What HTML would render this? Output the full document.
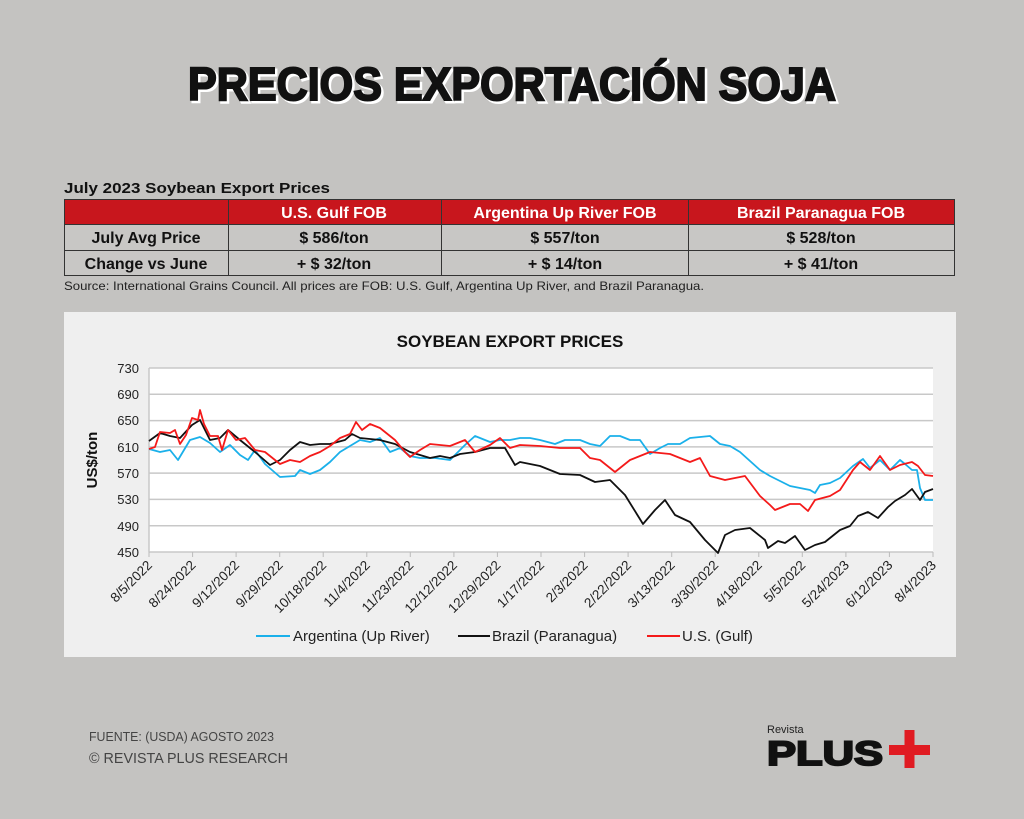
<!DOCTYPE html>
<html><head><meta charset="utf-8"><style>
html,body{margin:0;padding:0;background:#c4c3c1;}
svg{display:block}
</style></head><body>
<svg width="1024" height="819" viewBox="0 0 1024 819" xmlns="http://www.w3.org/2000/svg" font-family="'Liberation Sans', sans-serif">
<rect width="1024" height="819" fill="#c4c3c1"/>
<!-- title -->
<text x="190" y="102" font-size="46" font-weight="bold" fill="#fff" textLength="648" lengthAdjust="spacingAndGlyphs" stroke="#fff" stroke-width="3">PRECIOS EXPORTACIÓN SOJA</text>
<text x="188" y="100" font-size="46" font-weight="bold" fill="#111" textLength="648" lengthAdjust="spacingAndGlyphs" stroke="#111" stroke-width="2">PRECIOS EXPORTACIÓN SOJA</text>
<!-- table -->
<text x="64" y="193" font-size="15" font-weight="bold" fill="#111" textLength="266" lengthAdjust="spacingAndGlyphs">July 2023 Soybean Export Prices</text>
<rect x="64.5" y="199.5" width="890" height="25" fill="#c8161d" stroke="#333"/>
<rect x="64.5" y="224.5" width="890" height="51" fill="#c8c7c5" stroke="#333"/>
<line x1="64" y1="250.5" x2="955" y2="250.5" stroke="#333"/>
<g stroke="#333"><line x1="228.5" y1="199" x2="228.5" y2="276"/><line x1="441.5" y1="199" x2="441.5" y2="276"/><line x1="688.5" y1="199" x2="688.5" y2="276"/></g>
<g font-size="16" font-weight="bold" text-anchor="middle">
<text x="334" y="218" fill="#fff">U.S. Gulf FOB</text>
<text x="565" y="218" fill="#fff">Argentina Up River FOB</text>
<text x="821" y="218" fill="#fff">Brazil Paranagua FOB</text>
<text x="146" y="243" fill="#111">July Avg Price</text>
<text x="334" y="243" fill="#111">$ 586/ton</text>
<text x="565" y="243" fill="#111">$ 557/ton</text>
<text x="821" y="243" fill="#111">$ 528/ton</text>
<text x="146" y="269" fill="#111">Change vs June</text>
<text x="334" y="269" fill="#111">+ $ 32/ton</text>
<text x="565" y="269" fill="#111">+ $ 14/ton</text>
<text x="821" y="269" fill="#111">+ $ 41/ton</text>
</g>
<text x="64" y="290" font-size="12" fill="#222" textLength="640" lengthAdjust="spacingAndGlyphs">Source: International Grains Council. All prices are FOB: U.S. Gulf, Argentina Up River, and Brazil Paranagua.</text>
<!-- chart -->
<rect x="64" y="312" width="892" height="345" fill="#efefef"/>
<text x="510" y="347" font-size="17" font-weight="bold" fill="#111" text-anchor="middle">SOYBEAN EXPORT PRICES</text>
<rect x="149" y="368" width="784" height="184" fill="#fff"/>
<g stroke="#c8c8c8" stroke-width="1.5">
<line x1="149" y1="368" x2="933" y2="368"/><line x1="149" y1="394.3" x2="933" y2="394.3"/><line x1="149" y1="420.6" x2="933" y2="420.6"/><line x1="149" y1="446.9" x2="933" y2="446.9"/><line x1="149" y1="473.1" x2="933" y2="473.1"/><line x1="149" y1="499.4" x2="933" y2="499.4"/><line x1="149" y1="525.7" x2="933" y2="525.7"/><line x1="149" y1="552" x2="933" y2="552"/>
<line x1="149" y1="368" x2="149" y2="552"/>
</g>
<g font-size="13" fill="#222" text-anchor="end">
<text x="139" y="373">730</text><text x="139" y="399">690</text><text x="139" y="425">650</text><text x="139" y="452">610</text><text x="139" y="478">570</text><text x="139" y="504">530</text><text x="139" y="531">490</text><text x="139" y="557">450</text>
</g>
<text transform="translate(97,460) rotate(-90)" font-size="15" font-weight="bold" fill="#111" text-anchor="middle">US$/ton</text>
<g stroke="#bbb" stroke-width="1">
<path d="M149 552v5M192.6 552v5M236.1 552v5M279.7 552v5M323.2 552v5M366.8 552v5M410.3 552v5M453.9 552v5M497.4 552v5M541 552v5M584.6 552v5M628.1 552v5M671.7 552v5M715.2 552v5M758.8 552v5M802.3 552v5M845.9 552v5M889.4 552v5M933 552v5"/>
</g>
<g font-size="13.5" fill="#222" text-anchor="end">
<text transform="translate(153,566) rotate(-45)">8/5/2022</text>
<text transform="translate(196.6,566) rotate(-45)">8/24/2022</text>
<text transform="translate(240.1,566) rotate(-45)">9/12/2022</text>
<text transform="translate(283.7,566) rotate(-45)">9/29/2022</text>
<text transform="translate(327.2,566) rotate(-45)">10/18/2022</text>
<text transform="translate(370.8,566) rotate(-45)">11/4/2022</text>
<text transform="translate(414.3,566) rotate(-45)">11/23/2022</text>
<text transform="translate(457.9,566) rotate(-45)">12/12/2022</text>
<text transform="translate(501.4,566) rotate(-45)">12/29/2022</text>
<text transform="translate(545,566) rotate(-45)">1/17/2022</text>
<text transform="translate(588.6,566) rotate(-45)">2/3/2022</text>
<text transform="translate(632.1,566) rotate(-45)">2/22/2022</text>
<text transform="translate(675.7,566) rotate(-45)">3/13/2022</text>
<text transform="translate(719.2,566) rotate(-45)">3/30/2022</text>
<text transform="translate(762.8,566) rotate(-45)">4/18/2022</text>
<text transform="translate(806.3,566) rotate(-45)">5/5/2022</text>
<text transform="translate(849.9,566) rotate(-45)">5/24/2023</text>
<text transform="translate(893.4,566) rotate(-45)">6/12/2023</text>
<text transform="translate(937,566) rotate(-45)">8/4/2023</text>
</g>
<g fill="none" stroke-width="1.8" stroke-linejoin="round">
<polyline stroke="#1ab0ea" points="149,449 160,452 170,450 178,460 190,440 200,437 210,443 220,452 230,445 240,455 248,460 255,450 265,464 280,477 295,476 300,470 310,474 320,470 330,462 340,452 350,446 360,440 370,442 380,438 390,452 400,448 410,456 420,458 435,458 450,460 465,445 475,436 490,442 500,440 510,440 520,438 530,438 540,440 555,444 565,440 580,440 590,444 600,446 610,436 620,436 630,440 640,440 650,454 660,448 668,444 680,444 690,438 700,437 710,436 720,444 730,446 740,452 760,470 770,476 790,486 800,488 810,490 815,493 820,485 830,483 840,478 853,466 863,459 870,468 880,460 890,470 900,460 905,464 912,470 917,470 920,488 925,500 933,500"/>
<polyline stroke="#111" points="149,441 160,433 170,436 180,438 192,425 200,420 210,440 220,438 228,430 240,440 255,452 270,465 280,460 290,450 300,442 310,445 320,444 330,444 345,440 352,434 360,438 380,440 395,444 410,452 430,458 440,456 450,458 460,454 475,452 490,448 505,448 515,465 520,462 540,466 560,474 580,475 595,482 610,480 625,495 643,524 655,510 665,500 675,515 690,522 705,540 718,553 725,535 735,530 750,528 765,540 768,548 778,541 785,543 795,536 805,550 815,545 825,542 840,530 850,526 858,516 868,512 878,518 888,507 895,501 905,495 912,489 920,500 925,492 933,489"/>
<polyline stroke="#f41a1a" points="149,449 155,447 160,432 170,433 175,430 180,444 186,435 192,418 198,420 200,410 204,424 210,436 218,436 222,450 228,430 236,440 245,438 255,450 265,452 280,464 290,460 300,462 310,456 320,452 330,446 340,438 350,434 356,422 362,430 370,424 380,428 395,440 405,452 410,457 420,450 430,444 450,446 465,440 475,452 490,445 500,438 510,448 520,445 540,446 560,448 580,448 590,458 600,460 615,472 630,460 650,452 670,454 690,462 700,458 710,476 725,480 735,478 745,476 760,496 770,505 775,510 780,508 790,504 800,504 808,511 815,500 830,496 840,490 853,470 860,462 870,470 880,456 890,470 900,465 912,462 918,466 925,475 933,476"/>
</g>
<g font-size="15" fill="#222">
<line x1="256" y1="636" x2="290" y2="636" stroke="#1ab0ea" stroke-width="2"/><text x="293" y="641">Argentina (Up River)</text>
<line x1="458" y1="636" x2="490" y2="636" stroke="#111" stroke-width="2"/><text x="492" y="641">Brazil (Paranagua)</text>
<line x1="647" y1="636" x2="680" y2="636" stroke="#f41a1a" stroke-width="2"/><text x="682" y="641">U.S. (Gulf)</text>
</g>
<!-- footer -->
<text x="89" y="741" font-size="13" fill="#444" textLength="185" lengthAdjust="spacingAndGlyphs">FUENTE: (USDA) AGOSTO 2023</text>
<text x="89" y="763" font-size="15" fill="#444" textLength="199" lengthAdjust="spacingAndGlyphs">© REVISTA PLUS RESEARCH</text>
<text x="767" y="733" font-size="11" fill="#222">Revista</text>
<text x="767" y="765" font-size="34" font-weight="bold" fill="#111" stroke="#111" stroke-width="2" textLength="116" lengthAdjust="spacingAndGlyphs">PLUS</text>
<rect x="889" y="745" width="41" height="10" fill="#e01b22"/>
<rect x="904.5" y="730" width="10" height="38" fill="#e01b22"/>
</svg>
</body></html>
